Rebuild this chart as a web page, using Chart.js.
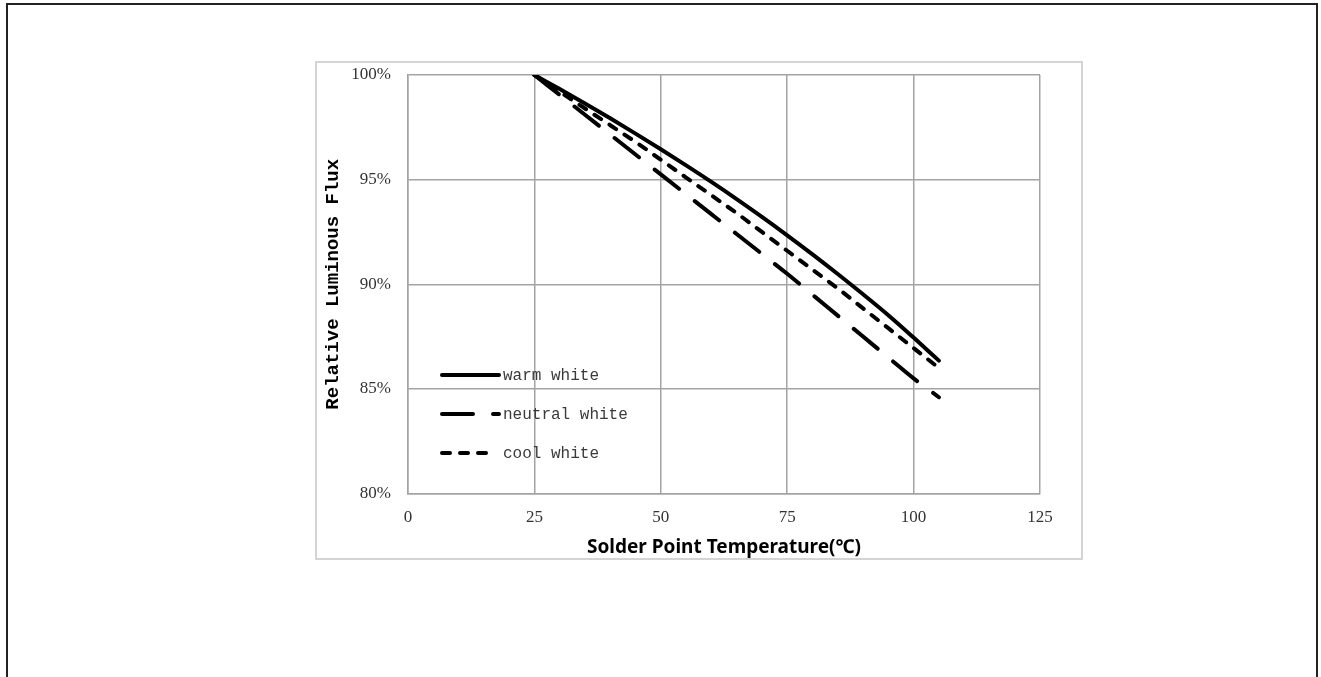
<!DOCTYPE html>
<html>
<head>
<meta charset="utf-8">
<script src="https://cdn.jsdelivr.net/npm/chart.js@4.4.1/dist/chart.umd.min.js"></script>
<style>
  body { margin: 0; background: #fff; }
  #page { position: absolute; left: 6px; top: 3px; width: 1308px; height: 720px; border: 2px solid #222; border-bottom: none; }
  #box { position: absolute; left: 315px; top: 61px; width: 764px; height: 495px; border: 2px solid #d4d4d4; }
  #wrap { position: absolute; left: 315px; top: 61px; width: 768px; height: 499px; }
</style>
</head>
<body>
<div id="page"></div>
<div id="box"></div>
<div id="wrap"><canvas id="fluxChart"></canvas></div>
<script>
// solder point temperature (C)
const temps = [25, 30, 35, 40, 45, 50, 55, 60, 65, 70, 75, 80, 85, 90, 95, 100, 105]
// relative luminous flux (%)
const warmWhite = [100, 99.33, 98.64, 97.93, 97.2, 96.45, 95.68, 94.89, 94.07, 93.22, 92.34, 91.43, 90.49, 89.52, 88.52, 87.45, 86.35]
const neutralWhite = [100, 99.05, 98.1, 97.15, 96.2, 95.25, 94.3, 93.35, 92.4, 91.45, 90.5, 89.5, 88.5, 87.5, 86.5, 85.5, 84.6]
const coolWhite = [100, 99.2, 98.4, 97.6, 96.8, 95.95, 95.1, 94.25, 93.4, 92.5, 91.6, 90.7, 89.8, 88.85, 87.9, 86.95, 86.0]
const seriesNames = ["warm white", "neutral white", "cool white"]
const xTicks = [0, 25, 50, 75, 100, 125]
const yTicks = [80, 85, 90, 95, 100]

const toPoints = values => values.map((v, i) => ({ x: temps[i], y: v }))

const lineStyle = {
  borderColor: "#000",
  borderWidth: 4,
  borderCapStyle: "round",
  pointRadius: 0,
  fill: false,
  cubicInterpolationMode: "monotone",
}

// legend drawn inside the plot, Excel style
const insideLegend = {
  id: "insideLegend",
  afterDraw(chart) {
    const ctx = chart.ctx
    const rows = [314, 353, 392]
    const ends = [184, 184, 176]
    ctx.save()
    chart.data.datasets.forEach((ds, i) => {
      const y = rows[i]
      ctx.strokeStyle = ds.borderColor
      ctx.lineWidth = ds.borderWidth
      ctx.lineCap = "round"
      ctx.setLineDash(ds.borderDash || [])
      ctx.beginPath()
      ctx.moveTo(127, y)
      ctx.lineTo(ends[i], y)
      ctx.stroke()
      ctx.setLineDash([])
      ctx.fillStyle = "#3a3a3a"
      ctx.font = "16px 'Liberation Mono'"
      ctx.textBaseline = "middle"
      ctx.textAlign = "left"
      ctx.fillText(ds.label, 188, y + 1)
    })
    ctx.restore()
  },
}

const gridColor = "#a3a3a3"

new Chart(document.getElementById("fluxChart"), {
  type: "line",
  data: {
    datasets: [
      { ...lineStyle, label: seriesNames[0], data: toPoints(warmWhite) },
      { ...lineStyle, label: seriesNames[1], data: toPoints(neutralWhite), borderDash: [31, 20] },
      { ...lineStyle, label: seriesNames[2], data: toPoints(coolWhite), borderDash: [8, 10] },
    ],
  },
  options: {
    responsive: true,
    maintainAspectRatio: false,
    animation: false,
    layout: { padding: { left: 0, right: 43, top: 14, bottom: 0 } },
    plugins: {
      legend: { display: false },
      tooltip: { enabled: false },
    },
    scales: {
      x: {
        type: "linear",
        min: 0,
        max: 125,
        afterFit: scale => {
          scale.height = 66.5
          scale.paddingLeft = 0
          scale.paddingRight = 0
        },
        afterBuildTicks: scale => { scale.ticks = xTicks.map(v => ({ value: v })) },
        grid: { color: gridColor, lineWidth: 1.5, drawTicks: false },
        border: { color: gridColor, width: 1.5 },
        ticks: { color: "#333", padding: 14, font: { family: "'Liberation Serif'", size: 17 } },
        title: {
          display: true,
          text: "Solder Point Temperature(℃)",
          color: "#000",
          padding: { top: 0, bottom: 1 },
          font: { family: "'Noto Sans'", size: 19, weight: "bold" },
        },
      },
      y: {
        min: 80,
        max: 100,
        afterFit: scale => {
          scale.width = 93
          scale.paddingTop = 0
          scale.paddingBottom = 0
        },
        afterBuildTicks: scale => { scale.ticks = yTicks.map(v => ({ value: v })) },
        grid: { color: gridColor, lineWidth: 1.5, drawTicks: false },
        border: { color: gridColor, width: 1.5 },
        ticks: {
          color: "#333",
          padding: 17,
          font: { family: "'Liberation Serif'", size: 17 },
          callback: value => `${value}%`,
        },
        title: {
          display: true,
          text: "Relative Luminous Flux",
          color: "#000",
          padding: { top: 6.5, bottom: 0 },
          font: { family: "'Liberation Mono'", size: 19, weight: "bold" },
        },
      },
    },
  },
  plugins: [insideLegend],
})
</script>
</body>
</html>
